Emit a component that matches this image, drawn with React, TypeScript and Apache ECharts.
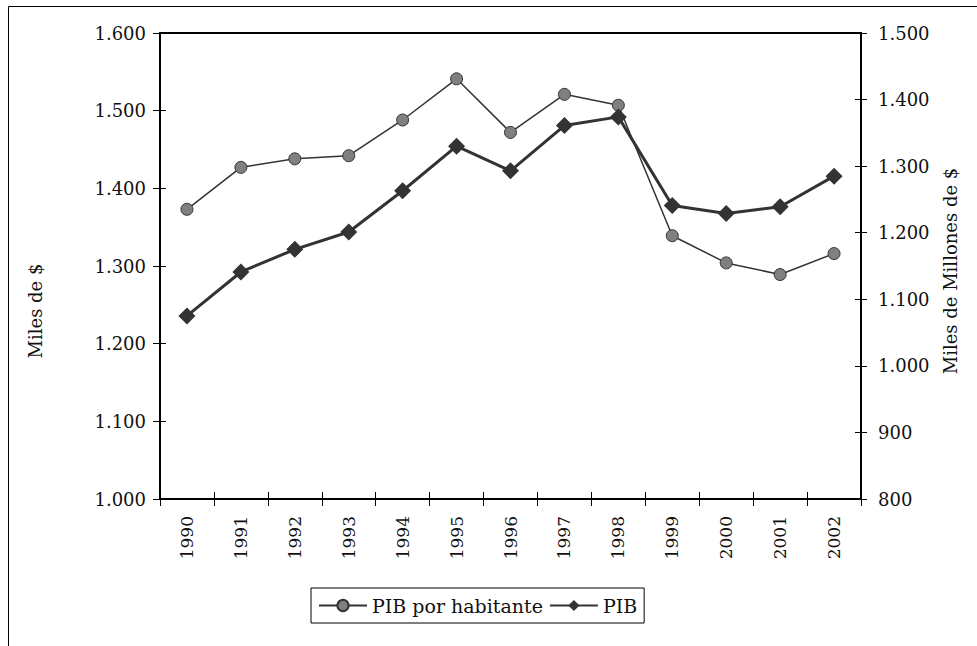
import React, { useEffect, useRef } from "react";
import * as echarts from "echarts";

const years = ["1990", "1991", "1992", "1993", "1994", "1995", "1996", "1997", "1998", "1999", "2000", "2001", "2002"];
const pibPorHabitante = [1373, 1427, 1438, 1442, 1488, 1541, 1472, 1521, 1507, 1339, 1304, 1289, 1316];
const pib = [1075, 1141, 1175, 1201, 1263, 1330, 1293, 1361, 1374, 1241, 1229, 1239, 1285];
const seriesNames = ["PIB por habitante", "PIB"];
const leftTitle = "Miles de $";
const rightTitle = "Miles de Millones de $";

const FONT = "DejaVu Serif";
const fmt = (v: number) => String(v).replace(/\B(?=(\d{3})+(?!\d))/g, ".");

export default function App() {
  const ref = useRef<HTMLDivElement>(null);
  useEffect(() => {
    if (!ref.current) return;
    const chart = echarts.init(ref.current, undefined, { renderer: "svg" });
    const textColor = "#111";
    const axisLine = { show: true, lineStyle: { color: "#000", width: 2 } };
    const tickStyle = { color: "#000", width: 1 };
    chart.setOption({
      animation: false,
      backgroundColor: "#fff",
      textStyle: { fontFamily: FONT },
      grid: { left: 160, right: 116, top: 33, bottom: 147, show: true, borderColor: "#000", borderWidth: 2, backgroundColor: "transparent" },
      legend: {
        left: 311,
        top: 588,
        data: seriesNames,
        padding: [8, 7, 8, 7],
        borderColor: "#000",
        borderWidth: 1,
        itemWidth: 48,
        itemHeight: 14,
        itemGap: 6,
        textStyle: { fontFamily: FONT, fontSize: 19, color: textColor },
      },
      xAxis: [
        {
          type: "category",
          data: years,
          boundaryGap: true,
          position: "bottom",
          axisLine,
          axisTick: { show: true, length: 7, lineStyle: tickStyle },
          axisLabel: { rotate: 90, margin: 17, fontFamily: FONT, fontSize: 17, color: textColor },
          splitLine: { show: false },
        },
        {
          type: "category",
          data: years,
          boundaryGap: true,
          position: "bottom",
          axisLine: { show: false },
          axisTick: { show: true, inside: true, length: 7, lineStyle: tickStyle },
          axisLabel: { show: false },
          splitLine: { show: false },
        },
      ],
      yAxis: [
        {
          type: "value",
          position: "left",
          min: 1000,
          max: 1600,
          interval: 100,
          axisLine,
          axisTick: { show: true, length: 7, lineStyle: tickStyle },
          axisLabel: { margin: 14, fontFamily: FONT, fontSize: 18, color: textColor, formatter: fmt },
          splitLine: { show: false },
        },
        {
          type: "value",
          position: "right",
          min: 800,
          max: 1500,
          interval: 100,
          axisLine,
          axisTick: { show: true, length: 6, lineStyle: tickStyle },
          axisLabel: { margin: 17, fontFamily: FONT, fontSize: 18, color: textColor, formatter: fmt },
          splitLine: { show: false },
        },
        {
          type: "value",
          position: "left",
          min: 1000,
          max: 1600,
          interval: 100,
          axisLine: { show: false },
          axisTick: { show: true, inside: true, length: 6, lineStyle: tickStyle },
          axisLabel: { show: false },
          splitLine: { show: false },
        },
        {
          type: "value",
          position: "right",
          min: 800,
          max: 1500,
          interval: 100,
          axisLine: { show: false },
          axisTick: { show: true, inside: true, length: 6, lineStyle: tickStyle },
          axisLabel: { show: false },
          splitLine: { show: false },
        },
      ],
      graphic: [
        {
          type: "rect",
          shape: { x: 8.5, y: 6.5, width: 1200, height: 1200 },
          style: { fill: "none", stroke: "#000", lineWidth: 1 },
          silent: true,
        },
        {
          type: "text",
          x: 35,
          y: 311,
          rotation: Math.PI / 2,
          style: { text: leftTitle, fontFamily: FONT, fontSize: 18, fill: textColor, align: "center", verticalAlign: "middle" },
        },
        {
          type: "text",
          x: 950,
          y: 271,
          rotation: Math.PI / 2,
          style: { text: rightTitle, fontFamily: FONT, fontSize: 18, fill: textColor, align: "center", verticalAlign: "middle" },
        },
      ],
      series: [
        {
          name: seriesNames[0],
          type: "line",
          xAxisIndex: 0,
          yAxisIndex: 0,
          data: pibPorHabitante,
          symbol: "circle",
          symbolSize: 12,
          lineStyle: { color: "#333", width: 1.5 },
          itemStyle: { color: "#808080", borderColor: "#333", borderWidth: 1 },
          z: 3,
        },
        {
          name: seriesNames[1],
          type: "line",
          xAxisIndex: 0,
          yAxisIndex: 1,
          data: pib,
          symbol: "diamond",
          symbolSize: 17,
          lineStyle: { color: "#333", width: 3 },
          itemStyle: { color: "#333", borderColor: "#333", borderWidth: 0 },
          z: 4,
        },
      ],
    });
    return () => chart.dispose();
  }, []);
  return <div ref={ref} style={{ position: "absolute", left: 0, top: 0, width: 977, height: 646 }} />;
}
